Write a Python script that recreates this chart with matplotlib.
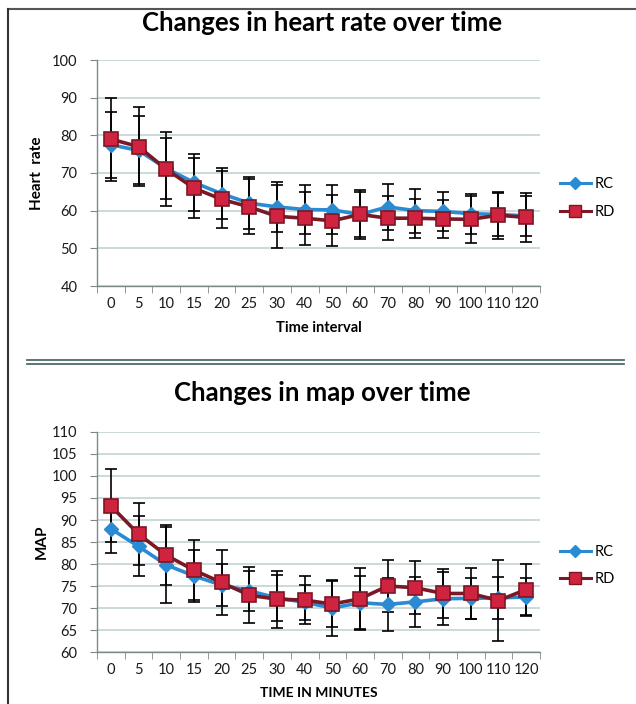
import matplotlib
matplotlib.use("Agg")
import matplotlib.pyplot as plt
from matplotlib.lines import Line2D
import numpy as np

plt.rcParams['font.family'] = ['Lato', 'DejaVu Sans']

time_labels = ['0', '5', '10', '15', '20', '25', '30', '40', '50', '60', '70', '80', '90', '100', '110', '120']

hr_rc = [77.5, 76.0, 71.2, 67.5, 64.5, 62.0, 61.0, 60.3, 60.2, 59.0, 61.0, 60.0, 59.8, 59.2, 59.0, 58.6]
hr_rc_sd = [8.7, 9.0, 8.2, 7.6, 6.8, 7.0, 6.6, 6.5, 6.5, 6.5, 6.2, 5.8, 5.2, 5.3, 5.8, 5.2]
hr_rd = [79.0, 77.0, 71.0, 66.0, 63.0, 61.0, 58.5, 58.0, 57.3, 59.0, 58.0, 58.0, 57.8, 57.7, 58.8, 58.2]
hr_rd_sd = [11.0, 10.5, 9.8, 7.9, 7.5, 7.3, 8.3, 7.0, 6.8, 6.0, 5.8, 5.2, 5.0, 6.3, 6.2, 6.4]

map_rc = [88.0, 84.0, 79.8, 77.3, 75.2, 73.9, 72.3, 71.3, 70.0, 71.2, 70.8, 71.4, 72.1, 72.2, 72.3, 72.5]
map_rc_sd = [5.5, 6.8, 8.6, 5.9, 4.8, 4.5, 5.2, 4.0, 6.3, 6.0, 6.0, 5.7, 6.0, 4.6, 4.7, 4.3]
map_rd = [93.2, 86.8, 82.0, 78.6, 75.8, 72.9, 72.0, 71.8, 70.9, 72.1, 75.0, 74.6, 73.3, 73.3, 71.7, 74.2]
map_rd_sd = [8.3, 7.0, 6.8, 6.8, 7.3, 6.4, 6.5, 5.5, 5.3, 7.0, 6.0, 6.0, 5.5, 5.9, 9.2, 5.9]

W, H = 636, 704
fig = plt.figure(figsize=(W / 100, H / 100), dpi=100)
fig.patch.set_facecolor('white')

RC_COLOR = '#2a8ad2'
RD_LINE = '#7a1826'
RD_FACE = '#d0233f'
GRID = '#c9d5d5'
AXC = '#7d8a8a'


def px_axes(left, right, top, bottom):
    return fig.add_axes([left / W, 1 - bottom / H, (right - left) / W, (bottom - top) / H])


def draw_panel(ax, rc, rc_sd, rd, rd_sd, ylim, ystep, title, xlabel, ylabel, title_y, xlabel_y, ylabel_x,
               xlabel_size, leg_y):
    x = np.arange(len(time_labels))
    ax.errorbar(x, rc, yerr=rc_sd, fmt='none', ecolor='black', elinewidth=1.2, capsize=4, capthick=1.2, zorder=3)
    ax.errorbar(x, rd, yerr=rd_sd, fmt='none', ecolor='black', elinewidth=1.2, capsize=4, capthick=1.2, zorder=3)
    ax.plot(x, rc, color=RC_COLOR, lw=2.6, marker='D', ms=7, mfc=RC_COLOR, mec=RC_COLOR, zorder=4)
    ax.plot(x, rd, color=RD_LINE, lw=2.6, marker='s', ms=10, mfc=RD_FACE, mec=RD_LINE, mew=1.2, zorder=5)
    ax.set_xlim(-0.5, len(time_labels) - 0.5)
    ax.set_ylim(*ylim)
    yt = np.arange(ylim[0], ylim[1] + 0.1, ystep)
    ax.set_yticks(yt)
    ax.set_yticklabels([str(int(v)) for v in yt], fontsize=10.5, color='#1a1a1a')
    ax.set_xticks(x)
    ax.set_xticklabels(time_labels, fontsize=10.5, color='#1a1a1a')
    ax.set_xticks(np.arange(-0.5, len(time_labels), 1.0), minor=True)
    ax.tick_params(axis='x', which='major', length=0, pad=8)
    ax.tick_params(axis='x', which='minor', length=5, direction='out', color=AXC)
    ax.tick_params(axis='y', length=5, direction='out', color=AXC, pad=9)
    for s in ['top', 'right']:
        ax.spines[s].set_visible(False)
    for s in ['left', 'bottom']:
        ax.spines[s].set_color(AXC)
        ax.spines[s].set_linewidth(1.0)
    ax.yaxis.grid(True, color=GRID, lw=1.3)
    ax.set_axisbelow(True)
    fig.text(322 / W, 1 - title_y / H, title, ha='center', va='center', fontsize=18.5, fontweight='bold')
    pos = ax.get_position()
    fig.text(pos.x0 + pos.width / 2, 1 - xlabel_y / H, xlabel,
             ha='center', va='center', fontsize=xlabel_size, fontweight='bold')
    fig.text(ylabel_x / W, pos.y0 + pos.height / 2, ylabel,
             ha='center', va='center', rotation=90, fontsize=11, fontweight='bold')
    handles = [
        Line2D([], [], color=RC_COLOR, lw=2.2, marker='D', ms=6, mfc=RC_COLOR, mec=RC_COLOR),
        Line2D([], [], color=RD_LINE, lw=2.2, marker='s', ms=8, mfc=RD_FACE, mec=RD_LINE),
    ]
    ax.legend(handles, ['RC', 'RD'], loc='center left', bbox_to_anchor=(1.045, leg_y), frameon=False,
              fontsize=10.5, handlelength=2.1, labelspacing=0.95, handletextpad=0.25, borderaxespad=0,
              borderpad=0)


ax1 = px_axes(97, 540, 60, 286)
draw_panel(ax1, hr_rc, hr_rc_sd, hr_rd, hr_rd_sd, (40, 100), 10,
           'Changes in heart rate over time', 'Time interval', 'Heart  rate',
           title_y=23, xlabel_y=328, ylabel_x=37, xlabel_size=10.5, leg_y=0.39)

ax2 = px_axes(97, 540, 432, 652)
draw_panel(ax2, map_rc, map_rc_sd, map_rd, map_rd_sd, (60, 110), 5,
           'Changes in map over time', 'TIME IN MINUTES', 'MAP',
           title_y=393, xlabel_y=693, ylabel_x=42, xlabel_size=10, leg_y=0.393)

# frame lines
fig.add_artist(Line2D([8 / W, 636 / W], [1 - 9 / H, 1 - 9 / H], color='#555555', lw=1.5))
fig.add_artist(Line2D([8 / W, 8 / W], [1 - 9 / H, 0], color='#333333', lw=1.5))
SEP = '#4f6a6a'
fig.add_artist(Line2D([27 / W, 624 / W], [1 - 360 / H, 1 - 360 / H], color=SEP, lw=1.3))
fig.add_artist(Line2D([27 / W, 624 / W], [1 - 364.5 / H, 1 - 364.5 / H], color=SEP, lw=1.3))

fig.savefig('out.png', dpi=100)
